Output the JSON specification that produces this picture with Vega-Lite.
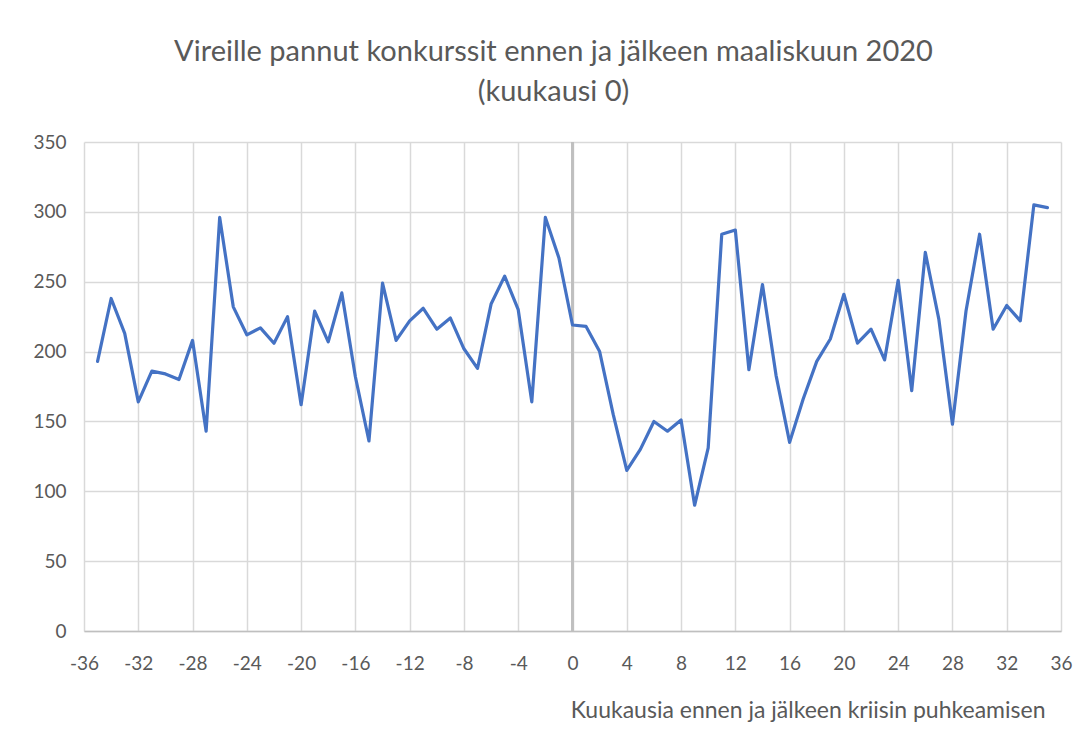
{
  "$schema": "https://vega.github.io/schema/vega-lite/v6.json",
  "autosize": {"type": "none"},
  "width": 977,
  "height": 489,
  "padding": {"left": 84, "top": 142, "right": 27, "bottom": 113},
  "background": "white",
  "title": {
    "text": ["Vireille pannut konkurssit ennen ja jälkeen maaliskuun 2020", "(kuukausi 0)"],
    "font": "Lato",
    "fontSize": 29,
    "fontWeight": "normal",
    "color": "#595959",
    "lineHeight": 40,
    "anchor": "middle",
    "dx": -19,
    "offset": 26
  },
  "data": {"values": [
    {"m": -35, "v": 193}, {"m": -34, "v": 238}, {"m": -33, "v": 213}, {"m": -32, "v": 164},
    {"m": -31, "v": 186}, {"m": -30, "v": 184}, {"m": -29, "v": 180}, {"m": -28, "v": 208},
    {"m": -27, "v": 143}, {"m": -26, "v": 296}, {"m": -25, "v": 232}, {"m": -24, "v": 212},
    {"m": -23, "v": 217}, {"m": -22, "v": 206}, {"m": -21, "v": 225}, {"m": -20, "v": 162},
    {"m": -19, "v": 229}, {"m": -18, "v": 207}, {"m": -17, "v": 242}, {"m": -16, "v": 182},
    {"m": -15, "v": 136}, {"m": -14, "v": 249}, {"m": -13, "v": 208}, {"m": -12, "v": 222},
    {"m": -11, "v": 231}, {"m": -10, "v": 216}, {"m": -9, "v": 224}, {"m": -8, "v": 202},
    {"m": -7, "v": 188}, {"m": -6, "v": 234}, {"m": -5, "v": 254}, {"m": -4, "v": 230},
    {"m": -3, "v": 164}, {"m": -2, "v": 296}, {"m": -1, "v": 267}, {"m": 0, "v": 219},
    {"m": 1, "v": 218}, {"m": 2, "v": 200}, {"m": 3, "v": 155}, {"m": 4, "v": 115},
    {"m": 5, "v": 130}, {"m": 6, "v": 150}, {"m": 7, "v": 143}, {"m": 8, "v": 151},
    {"m": 9, "v": 90}, {"m": 10, "v": 131}, {"m": 11, "v": 284}, {"m": 12, "v": 287},
    {"m": 13, "v": 187}, {"m": 14, "v": 248}, {"m": 15, "v": 183}, {"m": 16, "v": 135},
    {"m": 17, "v": 166}, {"m": 18, "v": 193}, {"m": 19, "v": 209}, {"m": 20, "v": 241},
    {"m": 21, "v": 206}, {"m": 22, "v": 216}, {"m": 23, "v": 194}, {"m": 24, "v": 251},
    {"m": 25, "v": 172}, {"m": 26, "v": 271}, {"m": 27, "v": 223}, {"m": 28, "v": 148},
    {"m": 29, "v": 229}, {"m": 30, "v": 284}, {"m": 31, "v": 216}, {"m": 32, "v": 233},
    {"m": 33, "v": 222}, {"m": 34, "v": 305}, {"m": 35, "v": 303}
  ]},
  "encoding": {
    "x": {
      "field": "m", "type": "quantitative",
      "scale": {"domain": [-36, 36], "nice": false, "zero": false},
      "axis": {
        "values": [-36, -32, -28, -24, -20, -16, -12, -8, -4, 0, 4, 8, 12, 16, 20, 24, 28, 32, 36],
        "labelExpr": "'' + datum.value",
        "title": "Kuukausia ennen ja jälkeen kriisin puhkeamisen",
        "titleAnchor": "end",
        "titleAlign": "right",
        "titleX": 961,
        "titleY": 79,
        "titleBaseline": "middle",
        "titleFont": "Lato",
        "titleFontSize": 23,
        "titleFontWeight": "normal",
        "titleColor": "#595959",
        "labelFont": "Lato",
        "labelFontSize": 19,
        "labelColor": "#595959",
        "labelPadding": 23,
        "labelOverlap": false,
        "labelFlush": false,
        "ticks": false,
        "domain": true,
        "domainColor": "#bfbfbf",
        "domainWidth": 1.5,
        "gridColor": "#d9d9d9",
        "gridWidth": 1.5
      }
    },
    "y": {
      "field": "v", "type": "quantitative",
      "scale": {"domain": [0, 350], "nice": false},
      "axis": {
        "values": [0, 50, 100, 150, 200, 250, 300, 350],
        "title": null,
        "labelFont": "Lato",
        "labelFontSize": 19,
        "labelColor": "#595959",
        "labelPadding": 18,
        "ticks": false,
        "domain": false,
        "gridColor": "#d9d9d9",
        "gridWidth": 1.5
      }
    }
  },
  "layer": [
    {
      "mark": {"type": "rule", "color": "#bfbfbf", "strokeWidth": 1.5},
      "encoding": {
        "x": {"datum": 0, "type": "quantitative"},
        "y": {"datum": 0, "type": "quantitative"},
        "y2": {"datum": 350}
      }
    },
    {
      "mark": {"type": "line", "color": "#4472C4", "strokeWidth": 3.2, "strokeJoin": "round", "strokeCap": "round"}
    }
  ],
  "config": {
    "view": {"stroke": null}
  }
}
